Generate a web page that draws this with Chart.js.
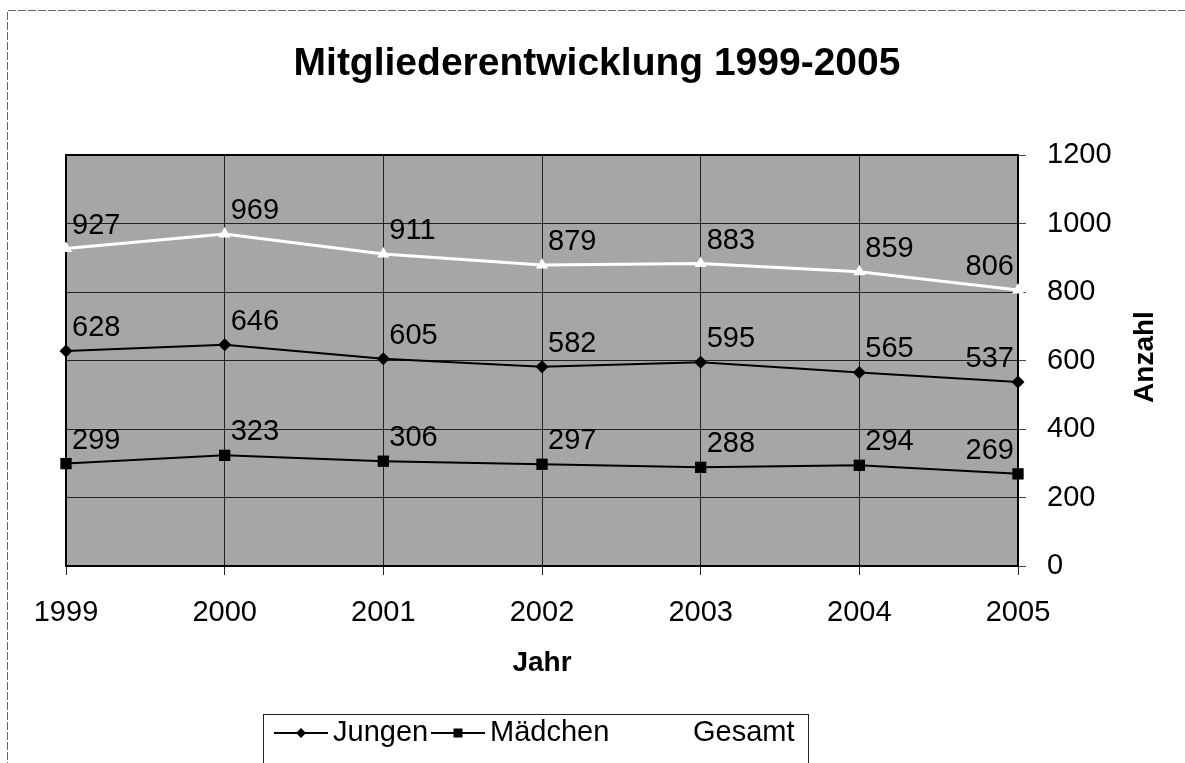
<!DOCTYPE html>
<html><head><meta charset="utf-8">
<script src="https://cdn.jsdelivr.net/npm/chart.js@4.4.1/dist/chart.umd.min.js"></script>
<style>html,body{margin:0;padding:0;background:#fff;overflow:hidden}</style>
</head><body>
<canvas id="c" width="1185" height="763"></canvas>
<script>
const years = ['1999','2000','2001','2002','2003','2004','2005'];
const jungen = [628,646,605,582,595,565,537];
const maedchen = [299,323,306,297,288,294,269];
const gesamt = [927,969,911,879,883,859,806];
const yTickValues = [0,200,400,600,800,1000,1200];
const seriesNames = ['Jungen','Mädchen','Gesamt'];
const chartTitle = 'Mitgliederentwicklung 1999-2005';
const xTitle = 'Jahr';
const yTitle = 'Anzahl';

const FONT = '"Liberation Sans", Arial, Helvetica, sans-serif';

const framePlugin = {
  id: 'frame',
  beforeDraw(chart) {
    const ctx = chart.ctx, a = chart.chartArea;
    ctx.save();
    ctx.fillStyle = '#fff';
    ctx.fillRect(0, 0, chart.width, chart.height);
    // outer frame (top & left visible)
    ctx.strokeStyle = '#666';
    ctx.lineWidth = 1;
    ctx.setLineDash([8, 2]);
    ctx.beginPath();
    ctx.moveTo(7.5, 770); ctx.lineTo(7.5, 10.5); ctx.lineTo(1190, 10.5);
    ctx.stroke();
    ctx.setLineDash([]);
    // plot background
    ctx.fillStyle = '#a6a6a6';
    ctx.fillRect(a.left, a.top, a.right - a.left, a.bottom - a.top);
    // chart title
    ctx.font = 'bold 39px ' + FONT;
    ctx.fillStyle = '#000';
    ctx.textAlign = 'center';
    ctx.textBaseline = 'alphabetic';
    ctx.fillText(chartTitle, 597, 75);
    ctx.restore();
  },
  beforeDatasetsDraw(chart) {
    const ctx = chart.ctx, a = chart.chartArea;
    ctx.save();
    ctx.strokeStyle = '#000';
    ctx.lineWidth = 2;
    ctx.beginPath();
    ctx.moveTo(a.left, a.bottom); ctx.lineTo(a.left, a.top); ctx.lineTo(a.right, a.top);
    ctx.stroke();
    ctx.restore();
  },
  afterDatasetsDraw(chart) {
    const ctx = chart.ctx;
    ctx.save();
    ctx.font = '29px ' + FONT;
    ctx.fillStyle = '#000';
    ctx.textBaseline = 'alphabetic';
    chart.data.datasets.forEach((ds, i) => {
      const meta = chart.getDatasetMeta(i);
      meta.data.forEach((pt, j) => {
        const last = j === meta.data.length - 1;
        ctx.textAlign = last ? 'right' : 'left';
        ctx.fillText(String(ds.data[j]), last ? pt.x - 4 : pt.x + 6, pt.y - 15);
      });
    });
    ctx.restore();
  },
  afterDraw(chart) {
    const ctx = chart.ctx;
    ctx.save();
    // y axis title, rotated
    ctx.translate(1153, 357);
    ctx.rotate(-Math.PI / 2);
    ctx.font = 'bold 28px ' + FONT;
    ctx.fillStyle = '#000';
    ctx.textAlign = 'center';
    ctx.textBaseline = 'alphabetic';
    ctx.fillText(yTitle, 0, 0);
    ctx.restore();

    // legend
    ctx.save();
    ctx.strokeStyle = '#222';
    ctx.lineWidth = 1;
    ctx.strokeRect(263.5, 714.5, 545, 60);
    const lineY = 733;
    const starts = [274, 431, 634];
    ctx.font = '29px ' + FONT;
    ctx.textBaseline = 'alphabetic';
    ctx.textAlign = 'left';
    chart.data.datasets.forEach((ds, i) => {
      const x0 = starts[i];
      ctx.strokeStyle = ds.borderColor;
      ctx.lineWidth = 2;
      ctx.beginPath(); ctx.moveTo(x0, lineY); ctx.lineTo(x0 + 54, lineY); ctx.stroke();
      const cx = x0 + 27;
      ctx.fillStyle = ds.pointBackgroundColor;
      ctx.beginPath();
      if (ds.pointStyle === 'rectRot') {
        ctx.moveTo(cx, lineY - 5); ctx.lineTo(cx + 5, lineY); ctx.lineTo(cx, lineY + 5); ctx.lineTo(cx - 5, lineY);
        ctx.closePath(); ctx.fill();
      } else if (ds.pointStyle === 'rect') {
        ctx.rect(cx - 4.5, lineY - 4.5, 9, 9); ctx.fill();
      } else {
        ctx.moveTo(cx, lineY - 5); ctx.lineTo(cx + 5, lineY + 4); ctx.lineTo(cx - 5, lineY + 4);
        ctx.closePath(); ctx.fill();
      }
      ctx.fillStyle = '#000';
      ctx.fillText(ds.label, x0 + 59, 741);
    });
    ctx.restore();
  }
};

new Chart(document.getElementById('c'), {
  type: 'line',
  data: {
    labels: years,
    datasets: [
      { label: seriesNames[0], data: jungen, borderColor: '#000', backgroundColor: '#000',
        borderWidth: 2, pointStyle: 'rectRot', pointRadius: 6.5, pointBackgroundColor: '#000',
        pointBorderColor: '#000', pointBorderWidth: 0, tension: 0, clip: 12 },
      { label: seriesNames[1], data: maedchen, borderColor: '#000', backgroundColor: '#000',
        borderWidth: 2, pointStyle: 'rect', pointRadius: 8, pointBackgroundColor: '#000',
        pointBorderColor: '#000', pointBorderWidth: 0, tension: 0, clip: 12 },
      { label: seriesNames[2], data: gesamt, borderColor: '#fff', backgroundColor: '#fff',
        borderWidth: 3, pointStyle: 'triangle', pointRadius: 7, pointBackgroundColor: '#fff',
        pointBorderColor: '#fff', pointBorderWidth: 0, tension: 0, clip: 12 }
    ]
  },
  options: {
    responsive: false,
    animation: false,
    devicePixelRatio: 1,
    layout: { padding: { left: 66, right: 0, top: 155, bottom: 67 } },
    plugins: {
      legend: { display: false },
      tooltip: { enabled: false },
      title: { display: false }
    },
    scales: {
      x: {
        type: 'category', offset: false,
        grid: { color: '#222', lineWidth: 1, tickLength: 9, tickColor: '#222', drawTicks: true },
        border: { color: '#000', width: 2 },
        ticks: { color: '#000', font: { family: FONT, size: 29 }, padding: 21, maxRotation: 0, autoSkip: false },
        title: { display: true, text: xTitle, color: '#000', font: { family: FONT, size: 28, weight: 'bold' }, padding: { top: 0, bottom: 16 } },
        afterFit(s) { s.height = 130; }
      },
      y: {
        position: 'right', min: 0, max: 1200,
        afterBuildTicks(s) { s.ticks = yTickValues.map(v => ({ value: v })); },
        grid: { color: '#222', lineWidth: 1, tickLength: 8, tickColor: '#444', drawTicks: true },
        border: { color: '#000', width: 2 },
        ticks: { color: '#000', font: { family: FONT, size: 29 }, padding: 21, callback: v => String(v) },
        afterFit(s) { s.width = 167; }
      }
    }
  },
  plugins: [framePlugin]
});
</script>
</body></html>
